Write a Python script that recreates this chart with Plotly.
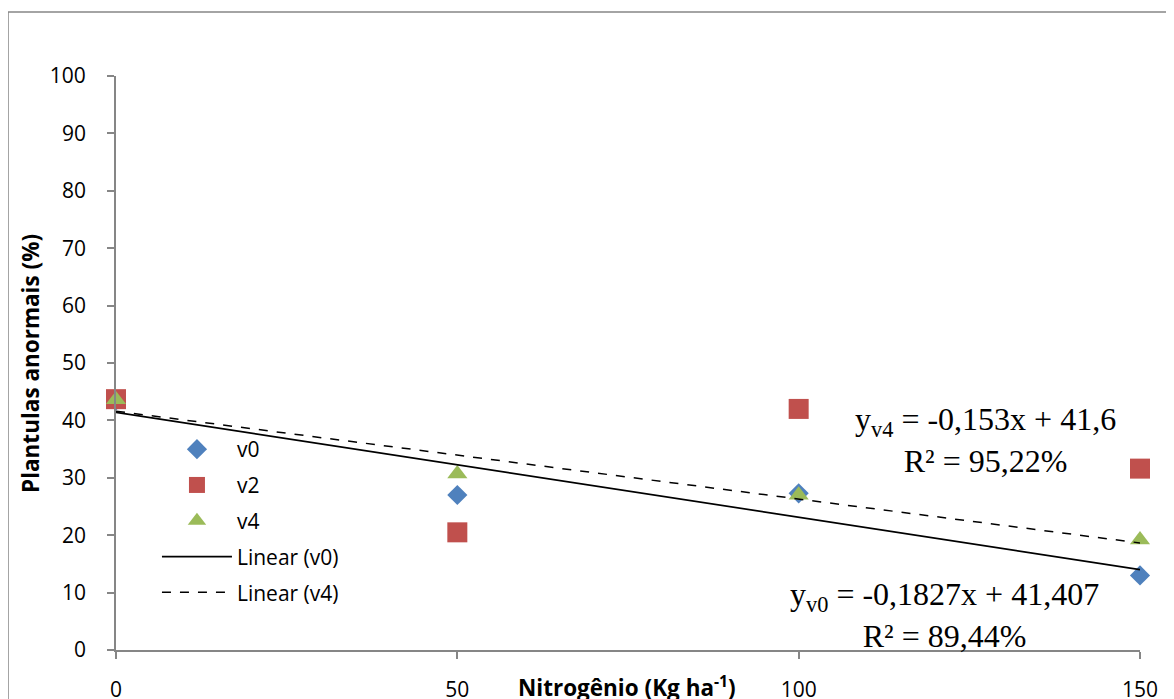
import plotly.graph_objects as go

# ---- data ----
nitrogen = [0, 50, 100, 150]
v0 = [43.5, 27.0, 27.3, 13.0]
v2 = [43.7, 20.5, 42.0, 31.6]
v4 = [43.6, 30.7, 27.0, 19.2]

# trend-line coefficients (as printed on the chart)
v0_slope, v0_intercept = -0.1827, 41.407
v4_slope, v4_intercept = -0.153, 41.6
trend_x = [0, 150]

x_ticks = [0, 50, 100, 150]
y_ticks = list(range(0, 101, 10))

C_V0 = "#4F81BD"
C_V2 = "#C0504D"
C_V4 = "#9BBB59"

SANS = "Open Sans, Noto Sans, sans-serif"
SERIF = "Liberation Serif, Times New Roman, serif"

# plot area in page pixels (page has an 8px body offset)
PX0, PX1, PY0, PY1 = 116, 1140, 76, 650


def px(xp):
    return (xp - PX0) / (PX1 - PX0)


def py(yp):
    return (PY1 - yp) / (PY1 - PY0)


fig = go.Figure()

fig.add_trace(go.Scatter(x=nitrogen, y=v0, mode="markers", name="v0", legendgroup="a",
                         marker=dict(symbol="diamond", size=15.5, color=C_V0), cliponaxis=False))
fig.add_trace(go.Scatter(x=nitrogen, y=v2, mode="markers", name="v2", legendgroup="b",
                         marker=dict(symbol="square", size=20, color=C_V2), cliponaxis=False))
fig.add_trace(go.Scatter(x=nitrogen, y=v4, mode="markers", name="v4", legendgroup="c",
                         marker=dict(symbol="triangle-up", size=17.5, color=C_V4), cliponaxis=False))
fig.add_trace(go.Scatter(x=trend_x, y=[v0_intercept + v0_slope * x for x in trend_x],
                         mode="lines", name="Linear (v0)", legendgroup="d",
                         line=dict(color="black", width=1.7)))
fig.add_trace(go.Scatter(x=trend_x, y=[v4_intercept + v4_slope * x for x in trend_x],
                         mode="lines", name="Linear (v4)", legendgroup="e",
                         line=dict(color="black", width=1.5, dash="dash")))

axis_common = dict(showline=True, linecolor="#868686", linewidth=1.8, showgrid=False,
                   zeroline=False, ticks="outside", tickcolor="#868686", ticklen=7, tickwidth=1.5,
                   automargin=False,
                   tickfont=dict(family=SANS, size=21, color="black"))

fig.update_xaxes(range=[0, 150], tickvals=x_ticks, ticklabelstandoff=13, **axis_common)
fig.update_yaxes(range=[0, 100], tickvals=y_ticks, ticklabelstandoff=17, **axis_common)

fig.update_layout(
    width=1166, height=691,
    margin=dict(l=108, r=34, t=68, b=49, pad=0),
    paper_bgcolor="white", plot_bgcolor="white",
    showlegend=True,
    legend=dict(x=0.04, y=py(429), xanchor="left", yanchor="top",
                font=dict(family=SANS, size=21, color="black"),
                tracegroupgap=5.5, bgcolor="rgba(0,0,0,0)", itemwidth=70),
    shapes=[dict(type="rect", xref="paper", yref="paper",
                 x0=px(8), x1=px(1300), y0=py(800), y1=py(12),
                 line=dict(color="#868686", width=1.5), fillcolor="rgba(0,0,0,0)", layer="below")],
    annotations=[
        dict(text="<b>Nitrogênio (Kg ha<sup>-1</sup>)</b>", xref="paper", yref="paper",
             x=px(627), y=py(686), xanchor="center", yanchor="middle", showarrow=False,
             font=dict(family=SANS, size=22.5, color="black")),
        dict(text="<b>Plantulas anormais (%)</b>", xref="paper", yref="paper",
             x=px(30), y=py(364), xanchor="center", yanchor="middle", showarrow=False,
             textangle=-90,
             font=dict(family=SANS, size=22.5, color="black")),
        dict(text="y<sub>v4</sub> = -0,153x + 41,6<br>R² = 95,22%", xref="paper", yref="paper",
             x=px(985), y=py(440), xanchor="center", yanchor="middle", showarrow=False,
             align="center",
             font=dict(family=SERIF, size=32, color="black")),
        dict(text="y<sub>v0</sub> = -0,1827x + 41,407<br>R² = 89,44%", xref="paper", yref="paper",
             x=px(944), y=py(615), xanchor="center", yanchor="middle", showarrow=False,
             align="center",
             font=dict(family=SERIF, size=32, color="black")),
    ],
)

fig.write_html("out.html")
